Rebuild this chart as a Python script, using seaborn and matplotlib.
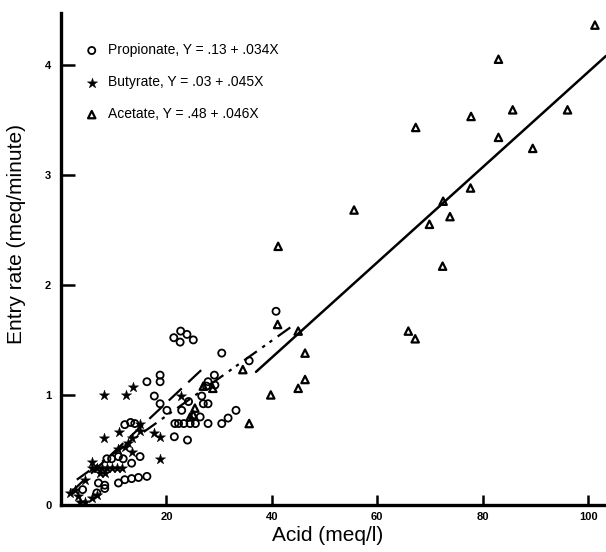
import matplotlib
matplotlib.use("Agg")
import matplotlib.pyplot as plt
import seaborn as sns
import pandas as pd

# ---- data ----
prop_x = [40.8, 21.4, 22.7, 23.9, 25.1, 22.6, 30.5, 35.7, 29.1, 27.9, 29.2, 27.6,
          26.7, 27.0, 27.9, 24.2, 22.9, 20.1, 18.8, 18.8, 17.7, 18.8, 16.3, 21.6,
          21.5, 24.0, 12.1, 13.2, 14.0, 15.0, 8.7, 9.6, 10.9, 11.8, 13.4, 7.1, 8.3,
          8.3, 10.9, 12.1, 13.4, 14.7, 16.3, 6.8, 4.1, 22.3, 23.3, 24.5, 25.5,
          26.4, 27.9, 30.5, 31.7, 33.2]
prop_y = [1.76, 1.52, 1.58, 1.55, 1.50, 1.48, 1.38, 1.31, 1.18, 1.12, 1.09, 1.08,
          0.99, 0.92, 0.92, 0.94, 0.86, 0.86, 1.18, 1.12, 0.99, 0.92, 1.12, 0.74,
          0.62, 0.59, 0.73, 0.75, 0.74, 0.44, 0.42, 0.42, 0.44, 0.42, 0.38, 0.20, 0.18,
          0.15, 0.20, 0.23, 0.24, 0.25, 0.26, 0.11, 0.14, 0.74, 0.74, 0.74, 0.74,
          0.80, 0.74, 0.74, 0.79, 0.86]

but_x = [8.2, 12.3, 13.6, 22.7, 8.2, 11.0, 15.0, 15.0, 17.7, 18.8, 18.8, 13.4,
         12.8, 13.4, 10.9, 12.1, 5.8, 6.8, 7.7, 8.7, 9.6, 10.6, 11.5, 5.8, 7.4, 8.3,
         4.6, 2.7, 1.7, 3.3, 3.6, 4.6, 5.8, 6.8]
but_y = [1.00, 1.00, 1.07, 0.99, 0.61, 0.66, 0.74, 0.67, 0.65, 0.62, 0.42, 0.61,
         0.56, 0.48, 0.51, 0.53, 0.34, 0.34, 0.34, 0.34, 0.34, 0.34, 0.34, 0.39, 0.29, 0.29,
         0.23, 0.14, 0.11, 0.08, 0.03, 0.03, 0.06, 0.09]

ace_x = [101.3, 83.0, 85.7, 77.8, 96.1, 67.3, 83.0, 89.5, 77.7, 72.5, 73.8, 69.9,
         55.6, 41.2, 72.4, 41.1, 45.0, 46.3, 46.3, 45.0, 39.8, 65.9, 67.2, 34.5,
         35.7, 27.0, 28.8, 25.4, 24.5, 25.1]
ace_y = [4.36, 4.05, 3.59, 3.53, 3.59, 3.43, 3.34, 3.24, 2.88, 2.76, 2.62, 2.55,
         2.68, 2.35, 2.17, 1.64, 1.58, 1.38, 1.14, 1.06, 1.00, 1.58, 1.51, 1.23,
         0.74, 1.08, 1.06, 0.88, 0.80, 0.82]

prop_line_x = [3.0, 44.0]
prop_line_y = [0.23, 1.63]
but_line_x = [2.0, 26.7]
but_line_y = [0.12, 1.23]
ace_line_x = [37.0, 103.4]
ace_line_y = [1.21, 4.08]

labels = ["Propionate, Y = .13 + .034X",
          "Butyrate, Y = .03 + .045X",
          "Acetate, Y = .48 + .046X"]
x_ticks = [20, 40, 60, 80, 100]
y_ticks = [0, 1, 2, 3, 4]

# ---- plot ----
sns.set_style("ticks")
plt.rcParams["font.family"] = ["Liberation Sans", "DejaVu Sans"]
plt.rcParams.update({"text.color": "black", "axes.labelcolor": "black",
                     "xtick.color": "black", "ytick.color": "black",
                     "axes.edgecolor": "black"})

fig = plt.figure(figsize=(6.06, 5.52), dpi=100)
ax = fig.add_axes([61 / 606, 47 / 552, 545 / 606, 492 / 552])

sns.scatterplot(x=prop_x, y=prop_y, ax=ax, marker="o", s=26,
                facecolor="none", edgecolor="black", linewidth=1.3, label=labels[0])
sns.scatterplot(x=but_x, y=but_y, ax=ax, marker="*", s=60,
                color="black", edgecolor="black", linewidth=0.3, label=labels[1])
sns.scatterplot(x=ace_x, y=ace_y, ax=ax, marker="^", s=28,
                facecolor="none", edgecolor="black", linewidth=1.6, label=labels[2])

sns.lineplot(x=prop_line_x, y=prop_line_y, ax=ax, color="black", lw=1.6,
             legend=False).lines[-1].set_dashes([7, 3, 1.5, 2.5, 1.5, 3])
sns.lineplot(x=but_line_x, y=but_line_y, ax=ax, color="black", lw=1.6,
             legend=False).lines[-1].set_dashes([8, 4])
sns.lineplot(x=ace_line_x, y=ace_line_y, ax=ax, color="black", lw=1.8, legend=False)

ax.set_xlim(0, 103.4)
ax.set_ylim(0, 4.47)
ax.set_xticks(x_ticks)
ax.set_yticks(y_ticks)
ax.set_xticklabels([str(t) for t in x_ticks], fontsize=8, fontweight="bold")
ax.set_yticklabels([str(t) for t in y_ticks], fontsize=8, fontweight="bold")
ax.tick_params(axis="y", direction="in", length=10, width=1.8, pad=7, colors="black")
ax.tick_params(axis="x", direction="in", length=7, width=1.8, pad=5, colors="black")

sns.despine(ax=ax)
for side in ("left", "bottom"):
    ax.spines[side].set_linewidth(2.4)
    ax.spines[side].set_color("black")

ax.set_xlabel("Acid (meq/l)", fontsize=15, color="black")
ax.set_ylabel("Entry rate (meq/minute)", fontsize=15, color="black")
ax.xaxis.set_label_coords(0.49, -0.043)
ax.yaxis.set_label_coords(-0.064, 0.55)

leg = ax.legend(loc="upper left", bbox_to_anchor=(0.036, 0.95), frameon=False,
                fontsize=10, handletextpad=0.8, labelspacing=1.3,
                borderaxespad=0, handlelength=0.8, labelcolor="black")

fig.savefig("out.png", dpi=100)
